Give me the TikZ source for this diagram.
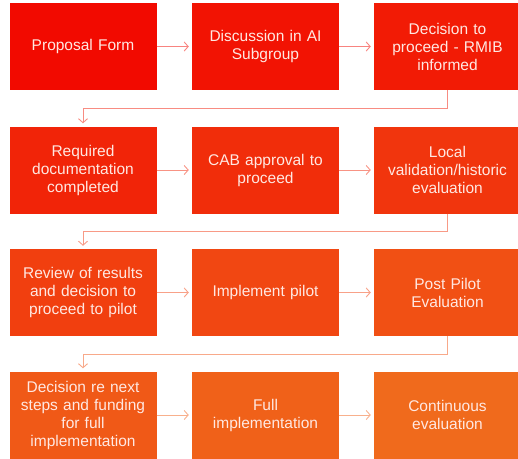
\documentclass[tikz,border=0pt]{standalone}
\usepackage{fontspec}
\setmainfont{Liberation Sans}
\usetikzlibrary{arrows.meta}

\definecolor{flowStart}{RGB}{242,10,0}
\definecolor{flowEnd}{RGB}{240,106,28}
\definecolor{flowText}{RGB}{255,232,226}

\tikzset{
  stage/.style={fill=#1, minimum width=147pt, minimum height=87pt,
    text width=140pt, align=center, inner sep=0pt, text=flowText,
    font=\fontsize{15.5}{18}\selectfont},
  link/.style={draw=#1!50!white, line width=0.9pt,
    -{Straight Barb[length=4pt,width=9pt]}, shorten >=3pt},
}

\begin{document}
\begin{tikzpicture}[x=1pt,y=1pt]
    \useasboundingbox (0,0) rectangle (518,-458);

    \node[stage=flowStart] (proposal) at (83,-46.5) {Proposal Form};
    \node[stage=flowEnd!9!flowStart] (discuss) at (265.5,-46.5) {Discussion in AI\\Subgroup};
    \node[stage=flowEnd!18!flowStart] (decide) at (447.5,-46.5) {Decision to\\proceed - RMIB\\informed};

    \node[stage=flowEnd!27!flowStart] (docs) at (83,-170) {Required\\documentation\\completed};
    \node[stage=flowEnd!36!flowStart] (cab) at (265.5,-170) {CAB approval to\\proceed};
    \node[stage=flowEnd!45!flowStart] (local) at (447.5,-170) {Local\\validation/historic\\evaluation};

    \node[stage=flowEnd!55!flowStart] (review) at (83,-292.5) {Review of results\\and decision to\\proceed to pilot};
    \node[stage=flowEnd!64!flowStart] (pilot) at (265.5,-292.5) {Implement pilot};
    \node[stage=flowEnd!73!flowStart] (postpilot) at (447.5,-292.5) {Post Pilot\\Evaluation};

    \node[stage=flowEnd!82!flowStart] (nextsteps) at (83,-415) {Decision re next\\steps and funding\\for full\\implementation};
    \node[stage=flowEnd!91!flowStart] (full) at (265.5,-415) {Full\\implementation};
    \node[stage=flowEnd] (continuous) at (447.5,-415) {Continuous\\evaluation};

    % across each row
    \draw[link=flowStart] (proposal) -- (discuss);
    \draw[link=flowStart] (discuss) -- (decide);
    \draw[link=flowEnd!30!flowStart] (docs) -- (cab);
    \draw[link=flowEnd!30!flowStart] (cab) -- (local);
    \draw[link=flowEnd!60!flowStart] (review) -- (pilot);
    \draw[link=flowEnd!60!flowStart] (pilot) -- (postpilot);
    \draw[link=flowEnd!90!flowStart] (nextsteps) -- (full);
    \draw[link=flowEnd!90!flowStart] (full) -- (continuous);

    % back to the start of the next row
    \draw[link=flowEnd!15!flowStart] (decide.south) -- ++(0,-18) -| (docs.north);
    \draw[link=flowEnd!45!flowStart] (local.south) -- ++(0,-18) -| (review.north);
    \draw[link=flowEnd!75!flowStart] (postpilot.south) -- ++(0,-18) -| (nextsteps.north);
\end{tikzpicture}
\end{document}
